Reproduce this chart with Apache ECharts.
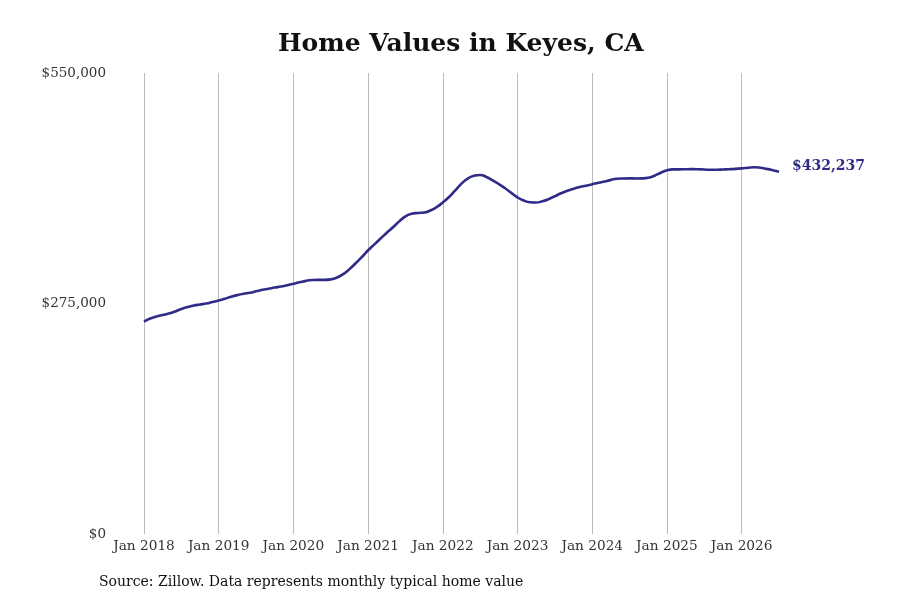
<!DOCTYPE html>
<html>
<head>
<meta charset="utf-8">
<title>Home Values in Keyes, CA</title>
<script src="https://cdn.jsdelivr.net/npm/echarts@6/dist/echarts.min.js"></script>
<style>
  html, body { margin: 0; padding: 0; background: #fff; }
  #chart { width: 900px; height: 600px; }
</style>
</head>
<body>
<div id="chart"></div>
<script>
// month index 0 = Jan 2018, one value per month
var yearTicks = ['Jan 2018', 'Jan 2019', 'Jan 2020', 'Jan 2021', 'Jan 2022',
                 'Jan 2023', 'Jan 2024', 'Jan 2025', 'Jan 2026'];
var yTicks = [0, 275000, 550000];
var homeValues = [
  253500, 257100, 259500, 261300, 263100, 265500, 268400, 270800, 272600, 273800, 275000, 276800, // 2018
  278600, 280800, 283000, 285000, 286600, 287800, 289500, 291300, 292600, 294000, 295200, 296800, // 2019
  298500, 300300, 302000, 303000, 303200, 303200, 303800, 306000, 310000, 316000, 323000, 330500, // 2020
  338500, 345500, 352500, 359500, 366000, 373000, 379000, 382000, 383000, 383500, 386000, 390000, // 2021
  395500, 402000, 410000, 418000, 424000, 427500, 428300, 426000, 422000, 417500, 412500, 407000, // 2022
  401500, 397800, 395800, 395500, 397000, 399500, 403000, 406500, 409500, 412000, 414000, 415500, // 2023
  417200, 419000, 420500, 422500, 423800, 424200, 424300, 424200, 424300, 425000, 427500, 431000, // 2024
  434000, 435000, 435000, 435200, 435300, 435200, 434800, 434500, 434600, 434900, 435200, 435600, // 2025
  436200, 437000, 437600, 437000, 435600, 434000, 432237                                          // 2026
];

var lineColor = '#2f2b87';
var font = 'DejaVu Serif';

var points = [];
for (var i = 0; i < homeValues.length; i++) {
  points.push([i, homeValues[i]]);
}

function money(v) {
  return '$' + Math.round(v).toString().replace(/\B(?=(\d{3})+(?!\d))/g, ',');
}

var chart = echarts.init(document.getElementById('chart'));
var option = {
  backgroundColor: '#fff',
  animation: false,
  title: {
    text: 'Home Values in Keyes, CA',
    left: 273,
    top: 27,
    textStyle: { fontFamily: font, fontWeight: 'bold', fontSize: 25, color: '#111' }
  },
  graphic: [{
    type: 'text',
    left: 99,
    top: 575,
    style: {
      text: 'Source: Zillow. Data represents monthly typical home value',
      fontFamily: font, fontSize: 14, fill: '#111'
    }
  }],
  grid: { left: 144, right: 121, top: 73, bottom: 66 },
  xAxis: {
    type: 'value',
    min: 0,
    max: 102,
    interval: 12,
    axisLine: { show: false },
    axisTick: { show: false },
    splitLine: { show: true, showMaxLine: false, lineStyle: { color: '#bbbbbb', width: 1 } },
    axisLabel: {
      margin: 5,
      fontFamily: font, fontSize: 13.7, color: '#333',
      formatter: function (v) {
        var k = v / 12;
        return yearTicks[k] !== undefined ? yearTicks[k] : '';
      },
      showMaxLabel: false
    }
  },
  yAxis: {
    type: 'value',
    min: yTicks[0],
    max: yTicks[2],
    interval: yTicks[1],
    axisLine: { show: false },
    axisTick: { show: false },
    splitLine: { show: false },
    axisLabel: {
      margin: 38,
      padding: [4, 0, 0, 0],
      fontFamily: font, fontSize: 13.5, color: '#333',
      formatter: money
    }
  },
  series: [{
    type: 'line',
    data: points,
    smooth: 0.5,
    showSymbol: false,
    lineStyle: { color: lineColor, width: 2.6 },
    itemStyle: { color: lineColor },
    endLabel: {
      show: true,
      distance: 13,
      offset: [0, -5],
      fontFamily: font, fontSize: 14, fontWeight: 'bold', color: lineColor,
      formatter: function (p) { return money(p.value[1]); }
    }
  }]
};
chart.setOption(option);
</script>
</body>
</html>
